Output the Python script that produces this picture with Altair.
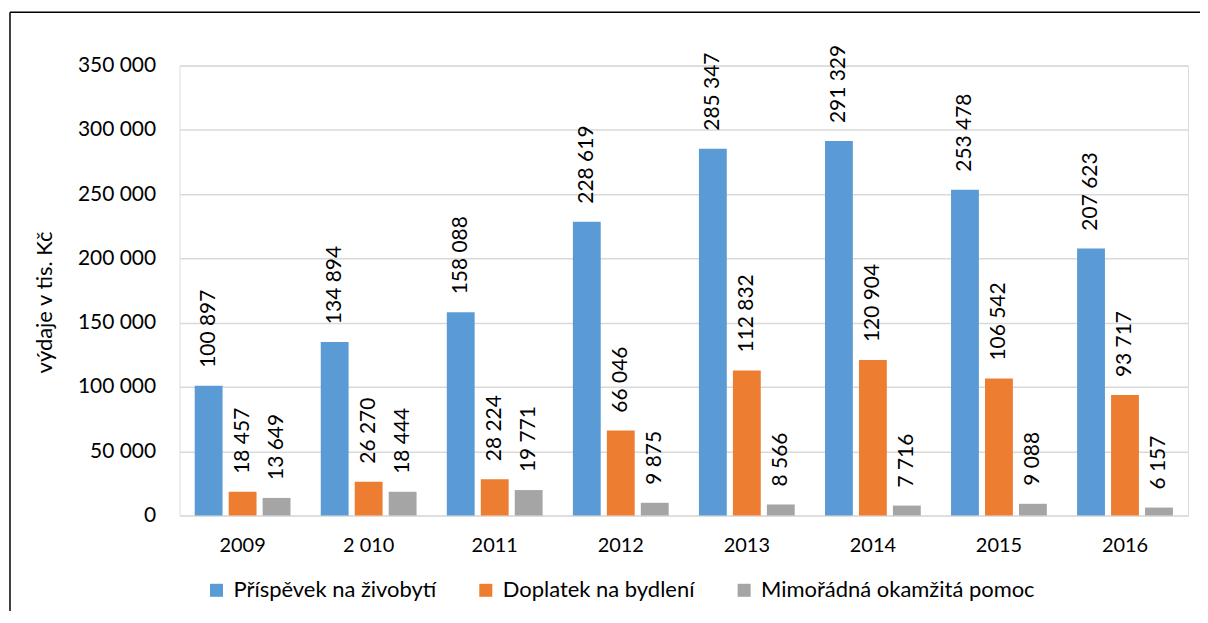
import altair as alt
import pandas as pd

years = ["2009", "2 010", "2011", "2012", "2013", "2014", "2015", "2016"]
series_names = ["Příspěvek na živobytí", "Doplatek na bydlení", "Mimořádná okamžitá pomoc"]
prispevek = [100897, 134894, 158088, 228619, 285347, 291329, 253478, 207623]
doplatek = [18457, 26270, 28224, 66046, 112832, 120904, 106542, 93717]
mimoradna = [13649, 18444, 19771, 9875, 8566, 7716, 9088, 6157]
colors = ["#5B9BD5", "#ED7D31", "#A5A5A5"]
y_ticks = [0, 50000, 100000, 150000, 200000, 250000, 300000, 350000]

rows = []
for name, vals in zip(series_names, [prispevek, doplatek, mimoradna]):
    for yr, v in zip(years, vals):
        rows.append({"rok": yr, "serie": name, "hodnota": v})
df = pd.DataFrame(rows)

FONT = "Lato"

x = alt.X("rok:N", sort=years, title=None,
          scale=alt.Scale(paddingInner=0.24, paddingOuter=0.12),
          axis=alt.Axis(labelAngle=0, labelFontSize=20, labelPadding=20, labelColor="#000000",
                        ticks=False, domain=False, labelFont=FONT))
xo = alt.XOffset("serie:N", sort=series_names, scale=alt.Scale(paddingInner=0.18))
y = alt.Y("hodnota:Q", title="výdaje v tis. Kč",
          scale=alt.Scale(domain=[0, 350000], nice=False),
          axis=alt.Axis(values=y_ticks, labelExpr="replace(format(datum.value, ','), regexp(',', 'g'), ' ')",
                        labelFontSize=21, labelPadding=24, labelColor="#000000", labelFont=FONT,
                        ticks=False, domain=False, gridColor="#D9D9D9", gridWidth=1.5,
                        titleFontSize=22, titleFont=FONT, titleFontWeight="normal", titleColor="#000000",
                        titleX=-135, titleY=237, titleBaseline="middle", titleAlign="center"))
color = alt.Color("serie:N", sort=series_names,
                  scale=alt.Scale(domain=series_names, range=colors),
                  legend=alt.Legend(title=None, orient="none", direction="horizontal",
                                    legendX=26, legendY=515, symbolType="square", symbolSize=170,
                                    symbolStrokeWidth=0, labelFontSize=22, labelFont=FONT,
                                    labelColor="#000000", columnPadding=38, labelOffset=6,
                                    labelLimit=0))

base = alt.Chart(df)
bars = base.mark_bar().encode(x=x, xOffset=xo, y=y, color=color)
labels = base.transform_calculate(
    lbl="replace(format(datum.hodnota, ','), regexp(',', 'g'), ' ')"
).mark_text(angle=270, align="left", baseline="middle", dx=18, fontSize=21,
            font=FONT, color="#000000").encode(x=x, xOffset=xo, y=y, text="lbl:N")

one = pd.DataFrame({"a": [0]})
frame_left = alt.Chart(one).mark_rule(color="#000000", strokeWidth=1.5).encode(
    x=alt.value(-170), y=alt.value(-53.5), y2=alt.value(800))
frame_top = alt.Chart(one).mark_rule(color="#000000", strokeWidth=1.5).encode(
    x=alt.value(-170), x2=alt.value(1023), y=alt.value(-53.5))

chart = alt.layer(frame_left, frame_top, bars, labels).properties(
    width=1011, height=451,
    autosize=alt.AutoSizeParams(type="none"),
    padding={"left": 172, "top": 57, "right": 12, "bottom": 95},
).configure_view(stroke=None).configure(background="#FFFFFF")

chart.save("out.html", embed_options={"renderer": "svg", "actions": False})
